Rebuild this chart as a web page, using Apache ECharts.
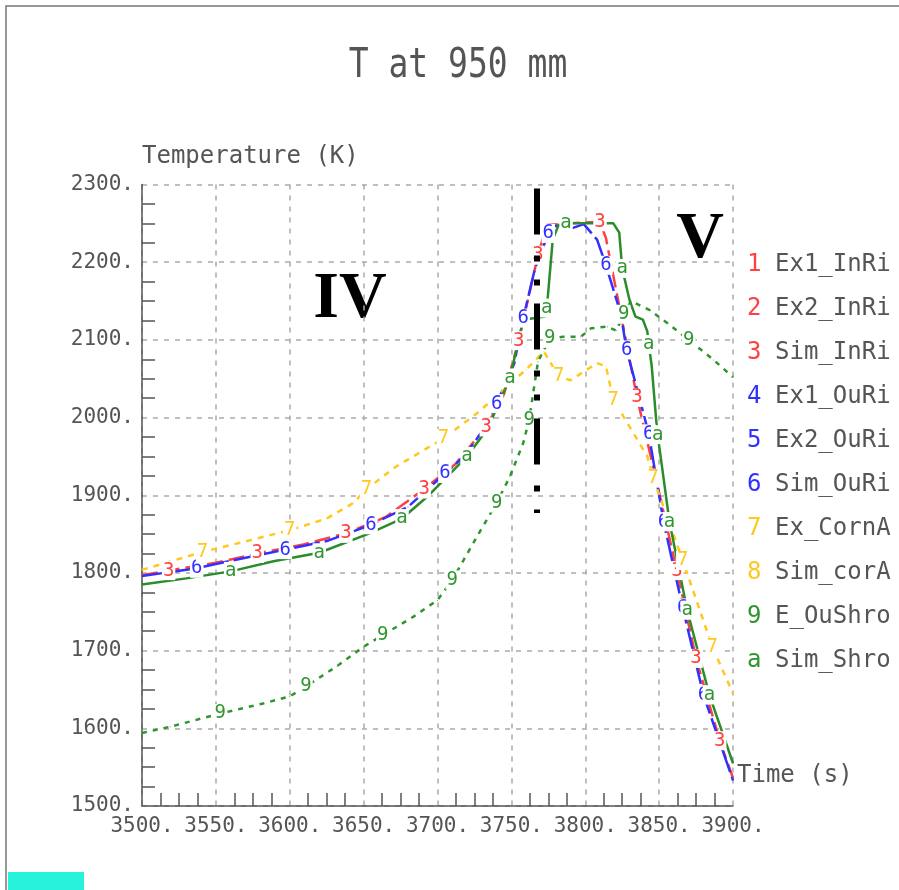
<!DOCTYPE html>
<html>
<head>
<meta charset="utf-8">
<script src="https://cdn.jsdelivr.net/npm/echarts@6/dist/echarts.min.js"></script>
<style>
html, body { margin: 0; padding: 0; background: #fff; }
#chart { width: 899px; height: 890px; }
</style>
</head>
<body>
<div id="chart"></div>
<script>
// legend entries, each curve is tagged with its digit
var names = ['Ex1_InRi', 'Ex2_InRi', 'Sim_InRi', 'Ex1_OuRi', 'Ex2_OuRi', 'Sim_OuRi', 'Ex_CornA', 'Sim_corA', 'E_OuShro', 'Sim_Shro'];
var digits = ['1', '2', '3', '4', '5', '6', '7', '8', '9', 'a'];

// axis ranges [min, max, step]
var timeAxis = [3500, 3900, 50];
var tempAxis = [1500, 2300, 100];

// [time s, temperature K]
var simInRi = [[3500,1797],[3518,1803],[3550,1813],[3578,1825],[3610,1837],[3638,1851],[3665,1872],[3691,1908],[3712,1940],[3733,1988],[3745,2030],[3755,2099],[3768,2209],[3774,2248],[3790,2250],[3810,2252],[3814,2231],[3824,2134],[3835,2026],[3848,1920],[3862,1803],[3875,1690],[3891,1584],[3900,1536]];
var simInRiMarks = [1, 3, 5, 7, 9, 11, 12, 15, 18, 20, 21, 22];

var simOuRi = [[3500,1796],[3537,1806],[3566,1818],[3597,1830],[3625,1841],[3655,1862],[3680,1885],[3705,1928],[3718,1950],[3731,1984],[3740,2018],[3752,2070],[3758,2128],[3766,2192],[3775,2237],[3778,2246],[3785,2248],[3790,2243],[3799,2249],[3808,2229],[3814,2196],[3824,2134],[3828,2087],[3836,2030],[3843,1979],[3853,1866],[3866,1755],[3880,1643],[3900,1533]];
var simOuRiMarks = [1, 3, 5, 7, 10, 12, 14, 20, 22, 24, 25, 26, 27];

var exCornA = [[3500,1804],[3541,1827],[3573,1842],[3600,1855],[3625,1870],[3643,1890],[3652,1908],[3672,1937],[3704,1973],[3727,2006],[3745,2036],[3760,2062],[3772,2085],[3782,2053],[3790,2048],[3808,2070],[3814,2066],[3819,2023],[3826,2001],[3842,1950],[3846,1922],[3866,1816],[3886,1705],[3900,1645]];
var exCornAMarks = [1, 3, 6, 8, 13, 17, 20, 21, 22];

var eOuShro = [[3500,1594],[3519,1602],[3553,1619],[3582,1632],[3600,1641],[3611,1654],[3632,1680],[3650,1705],[3663,1720],[3684,1744],[3700,1765],[3710,1791],[3728,1851],[3740,1890],[3749,1924],[3758,1967],[3762,1997],[3768,2072],[3776,2102],[3785,2104],[3797,2104],[3804,2115],[3815,2117],[3821,2112],[3826,2133],[3831,2150],[3844,2138],[3856,2121],[3870,2100],[3887,2074],[3900,2052]];
var eOuShroMarks = [2, 5, 8, 11, 13, 16, 18, 24, 28];

var simShro = [[3500,1785],[3530,1793],[3560,1802],[3589,1815],[3620,1826],[3654,1851],[3676,1870],[3693,1898],[3720,1950],[3734,1986],[3749,2051],[3758,2126],[3773,2130],[3774,2141],[3778,2229],[3782,2248],[3787,2250],[3819,2250],[3823,2238],[3825,2192],[3830,2151],[3834,2130],[3839,2126],[3842,2111],[3843,2094],[3845,2066],[3848,1997],[3849,1978],[3857,1866],[3869,1752],[3884,1643],[3900,1555]];
var simShroMarks = [2, 4, 6, 8, 10, 13, 16, 19, 24, 27, 28, 29, 30];

// dash-dot divider between phase IV and V
var dividerTime = 3767.5;
var dividerTemp = [2295, 1877];

var red = '#ff4040', blue = '#3030ff', gold = '#ffc81e', green = '#2f962f';
var digitColors = [red, red, red, blue, blue, blue, gold, gold, green, green];
var mono = '"DejaVu Sans Mono", monospace';

function curve(idx, pts, marks, color, dash) {
    return {
        name: names[idx],
        type: 'line',
        symbol: 'circle',
        symbolSize: 1,
        showAllSymbol: true,
        itemStyle: { color: color },
        lineStyle: { color: color, width: 2.5, type: dash },
        label: {
            show: false,
            position: 'inside',
            formatter: digits[idx],
            color: digitColors[idx],
            fontFamily: mono,
            fontSize: 19,
            backgroundColor: '#fff',
            padding: [0, 1]
        },
        data: pts.map(function (p, i) {
            return marks.indexOf(i) >= 0 ? { value: p, label: { show: true } } : p;
        })
    };
}

function empty(idx) {
    return { name: names[idx], type: 'line', data: [], itemStyle: { color: digitColors[idx] } };
}

var rich = { t: { color: '#555', fontFamily: mono, fontSize: 24, lineHeight: 28 } };
digitColors.forEach(function (c, i) {
    rich['c' + i] = { color: c, fontFamily: mono, fontSize: 24, lineHeight: 28, width: 28 };
});

var myChart = echarts.init(document.getElementById('chart'));
var option = {
    animation: false,
    backgroundColor: '#fff',
    grid: { left: 142, right: 166, top: 184.5, bottom: 84 },
    legend: {
        orient: 'vertical',
        left: 736,
        top: 248,
        itemWidth: 0,
        itemHeight: 0,
        itemGap: 20,
        data: names,
        formatter: function (name) {
            var i = names.indexOf(name);
            return '{c' + i + '|' + digits[i] + '}{t|' + name + '}';
        },
        textStyle: { rich: rich }
    },
    xAxis: {
        type: 'value',
        min: timeAxis[0], max: timeAxis[1], interval: timeAxis[2],
        name: 'Time (s)',
        nameLocation: 'end',
        nameGap: 4,
        nameTextStyle: { color: '#555', fontFamily: mono, fontSize: 24, align: 'left', verticalAlign: 'bottom', padding: [0, 0, 18, 0] },
        axisLine: { lineStyle: { color: '#555', width: 1.5 } },
        axisTick: { show: false, inside: true },
        minorTick: { show: true, splitNumber: 4, length: 13, lineStyle: { color: '#555', width: 1.5 } },
        splitLine: { lineStyle: { color: '#aaa', width: 1.5, type: [5, 6] } },
        axisLabel: { color: '#555', fontFamily: mono, fontSize: 21, margin: 10, formatter: function (v) { return v + '.'; } }
    },
    yAxis: {
        type: 'value',
        min: tempAxis[0], max: tempAxis[1], interval: tempAxis[2],
        name: 'Temperature (K)',
        nameLocation: 'end',
        nameGap: 16,
        nameTextStyle: { color: '#555', fontFamily: mono, fontSize: 24, align: 'left' },
        axisLine: { lineStyle: { color: '#555', width: 1.5 } },
        axisTick: { show: false, inside: true },
        minorTick: { show: true, splitNumber: 4, length: 13, lineStyle: { color: '#555', width: 1.5 } },
        splitLine: { lineStyle: { color: '#aaa', width: 1.5, type: [5, 6] } },
        axisLabel: { color: '#555', fontFamily: mono, fontSize: 21, margin: 8, formatter: function (v) { return v + '.'; } }
    },
    graphic: [
        { type: 'rect', shape: { x: 6, y: 6, width: 1000, height: 1000 }, style: { fill: 'none', stroke: '#777', lineWidth: 1.5 }, silent: true },
        { type: 'rect', shape: { x: 8, y: 872, width: 76, height: 18 }, style: { fill: '#28f2dc' }, silent: true },
        { type: 'text', x: 458, y: 46, scaleY: 1.25, style: { text: 'T at 950 mm', font: '33px ' + mono, fill: '#555', textAlign: 'center', textVerticalAlign: 'top' } },
        { type: 'text', x: 350, y: 300, style: { text: 'IV', font: 'bold 66px "Liberation Serif", serif', fill: '#000', textAlign: 'center', textVerticalAlign: 'middle' } },
        { type: 'text', x: 700, y: 240, style: { text: 'V', font: 'bold 66px "Liberation Serif", serif', fill: '#000', textAlign: 'center', textVerticalAlign: 'middle' } }
    ],
    series: [
        empty(0),
        empty(1),
        curve(2, simInRi, simInRiMarks, red, [16, 6]),
        empty(3),
        empty(4),
        curve(5, simOuRi, simOuRiMarks, blue, [26, 5]),
        curve(6, exCornA, exCornAMarks, gold, [6, 6]),
        empty(7),
        curve(8, eOuShro, eOuShroMarks, green, [5, 6]),
        curve(9, simShro, simShroMarks, '#2a8c2a', 'solid'),
        {
            name: 'divider',
            type: 'line',
            data: [],
            markLine: {
                silent: true,
                symbol: ['none', 'none'],
                label: { show: false },
                lineStyle: { color: '#000', width: 6, type: [46, 21, 6, 18, 6, 18], cap: 'butt' },
                data: [[{ coord: [dividerTime, dividerTemp[0]] }, { coord: [dividerTime, dividerTemp[1]] }]]
            }
        }
    ]
};
myChart.setOption(option);
</script>
</body>
</html>
